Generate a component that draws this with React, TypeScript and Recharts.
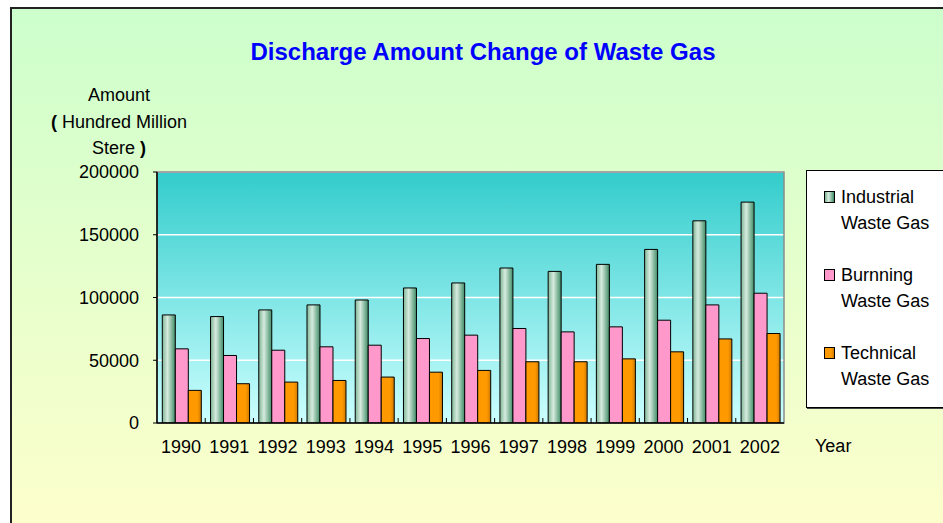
import React from "react";
import {
  BarChart,
  Bar,
  XAxis,
  YAxis,
  CartesianGrid,
  Legend,
  ReferenceArea,
  ReferenceLine,
} from "recharts";

const FONT = "'Liberation Sans', Arial, sans-serif";

const years = ["1990", "1991", "1992", "1993", "1994", "1995", "1996", "1997", "1998", "1999", "2000", "2001", "2002"];
const industrial = [86100, 84800, 90100, 94100, 98000, 107600, 111600, 123500, 120800, 126400, 138300, 161100, 176000];
const burning = [59100, 53800, 58000, 60700, 62000, 67300, 70000, 75300, 72600, 76600, 81900, 94100, 103400];
const technical = [26000, 31300, 32600, 33900, 36600, 40500, 41900, 48800, 48800, 51100, 56700, 67000, 71300];
const yTicks = [0, 50000, 100000, 150000, 200000];
const seriesOrder = ["industrial", "burning", "technical"];

const data = years.map((year, i) => ({
  year,
  industrial: industrial[i],
  burning: burning[i],
  technical: technical[i],
}));

// css versions of the bar fills, for the legend swatches
const swatch: Record<string, string> = {
  industrial: "linear-gradient(90deg, #7fb596 0%, #d6ebde 40%, #3f8c66 100%)",
  burning: "#ff99cc",
  technical: "linear-gradient(90deg, #ff9900 0%, #ff9900 70%, #cc7a00 100%)",
};

function YearTick(props: any) {
  const { x, y, payload } = props;
  return (
    <text
      x={x}
      y={y + 24}
      dy="0.355em"
      textAnchor="middle"
      fill="#000"
      fontSize={18}
      fontFamily={FONT}
    >
      {payload.value}
    </text>
  );
}

function LegendBox(props: any) {
  const items = [...(props.payload || [])].sort(
    (a: any, b: any) => seriesOrder.indexOf(a.dataKey) - seriesOrder.indexOf(b.dataKey)
  );
  return (
    <div
      style={{
        boxSizing: "border-box",
        width: 160,
        height: 238,
        background: "#fff",
        border: "1px solid #000",
        boxShadow: "1px 1px 0 #444",
        padding: "13px 0 0 0",
        fontFamily: FONT,
        fontSize: 18,
        lineHeight: "26px",
        color: "#000",
      }}
    >
      {items.map((it: any) => (
        <div
          key={it.dataKey}
          style={{ position: "relative", height: 52, marginBottom: 26 }}
        >
          <span
            style={{
              position: "absolute",
              left: 17,
              top: 7,
              width: 9,
              height: 10,
              border: "1px solid #000",
              background: swatch[it.dataKey],
            }}
          />
          <div style={{ position: "absolute", left: 34, top: 0, width: 105 }}>
            {it.value}
          </div>
        </div>
      ))}
    </div>
  );
}

export default function App() {
  return (
    <div
      style={{
        position: "absolute",
        left: 0,
        top: 0,
        width: 943,
        height: 523,
        overflow: "hidden",
        background: "#fff",
      }}
    >
      <div
        style={{
          position: "absolute",
          left: 10,
          top: 7,
          width: 980,
          height: 540,
          border: "2px solid #222",
          background: "linear-gradient(180deg, #ccffcc 0%, #e4ffcc 45%, #ffffcc 100%)",
        }}
      />
      <div
        style={{
          position: "absolute",
          left: 0,
          width: 966,
          top: 38,
          textAlign: "center",
          fontFamily: FONT,
          fontWeight: "bold",
          fontSize: 24,
          color: "#0000ff",
        }}
      >
        Discharge Amount Change of Waste Gas
      </div>
      <div
        style={{
          position: "absolute",
          left: 38,
          width: 162,
          top: 82,
          textAlign: "center",
          fontFamily: FONT,
          fontSize: 18,
          lineHeight: "26.5px",
          color: "#000",
        }}
      >
        <div>Amount</div>
        <div>
          <b>(</b> Hundred Million
        </div>
        <div>
          Stere <b>)</b>
        </div>
      </div>
      <div
        style={{
          position: "absolute",
          left: 815,
          top: 436,
          fontFamily: FONT,
          fontSize: 18,
          color: "#000",
        }}
      >
        Year
      </div>
      <div style={{ position: "absolute", left: 0, top: 0 }}>
        <BarChart
          width={943}
          height={523}
          data={data}
          margin={{ top: 172, right: 159, left: 0, bottom: 0 }}
          barCategoryGap="11%"
          barGap={0}
        >
          <defs>
            <linearGradient id="plotBg" x1="0" y1="0" x2="0" y2="1">
              <stop offset="0%" stopColor="#33cccc" />
              <stop offset="100%" stopColor="#ccffff" />
            </linearGradient>
            <linearGradient id="indFill" x1="0" y1="0" x2="1" y2="0">
              <stop offset="0%" stopColor="#7fb596" />
              <stop offset="40%" stopColor="#d6ebde" />
              <stop offset="100%" stopColor="#3f8c66" />
            </linearGradient>
            <linearGradient id="techFill" x1="0" y1="0" x2="1" y2="0">
              <stop offset="0%" stopColor="#ff9900" />
              <stop offset="70%" stopColor="#ff9900" />
              <stop offset="100%" stopColor="#cc7a00" />
            </linearGradient>
          </defs>
          <CartesianGrid
            vertical={false}
            stroke="#ffffff"
            strokeWidth={1.5}
            fill="url(#plotBg)"
            fillOpacity={1}
          />
          <ReferenceArea
            y1={0}
            y2={200000}
            fill="none"
            stroke="#8c8c8c"
            strokeWidth={1.5}
            ifOverflow="visible"
          />
          <XAxis
            dataKey="year"
            height={100}
            axisLine={{ stroke: "#000", strokeWidth: 1.5 }}
            tickLine={false}
            tickSize={0}
            tickMargin={0}
            interval={0}
            tick={<YearTick />}
          />
          <YAxis
            width={157}
            domain={[0, 200000]}
            ticks={yTicks}
            allowDataOverflow
            axisLine={{ stroke: "#000", strokeWidth: 1.5 }}
            tickLine={{ stroke: "#000" }}
            tickSize={4}
            tickMargin={14}
            tick={{ fill: "#000", fontSize: 18, fontFamily: FONT }}
          />
          <Legend
            layout="vertical"
            align="center"
            verticalAlign="middle"
            wrapperStyle={{ left: 806, top: 170, width: 160, height: 238 }}
            content={<LegendBox />}
          />
          <Bar
            dataKey="industrial"
            name="Industrial Waste Gas"
            fill="url(#indFill)"
            stroke="#000"
            strokeWidth={1}
            isAnimationActive={false}
          />
          <Bar
            dataKey="burning"
            name="Burnning Waste Gas"
            fill="#ff99cc"
            stroke="#000"
            strokeWidth={1}
            isAnimationActive={false}
          />
          <Bar
            dataKey="technical"
            name="Technical Waste Gas"
            fill="url(#techFill)"
            stroke="#000"
            strokeWidth={1}
            isAnimationActive={false}
          />
          {/* small inward tick marks on the category boundaries */}
          {years.slice(1).map((yr) => (
            <ReferenceLine
              key={yr}
              segment={[
                { x: yr, y: 0 },
                { x: yr, y: 4000 },
              ]}
              position="start"
              stroke="#000"
              strokeWidth={1}
            />
          ))}
        </BarChart>
      </div>
    </div>
  );
}
